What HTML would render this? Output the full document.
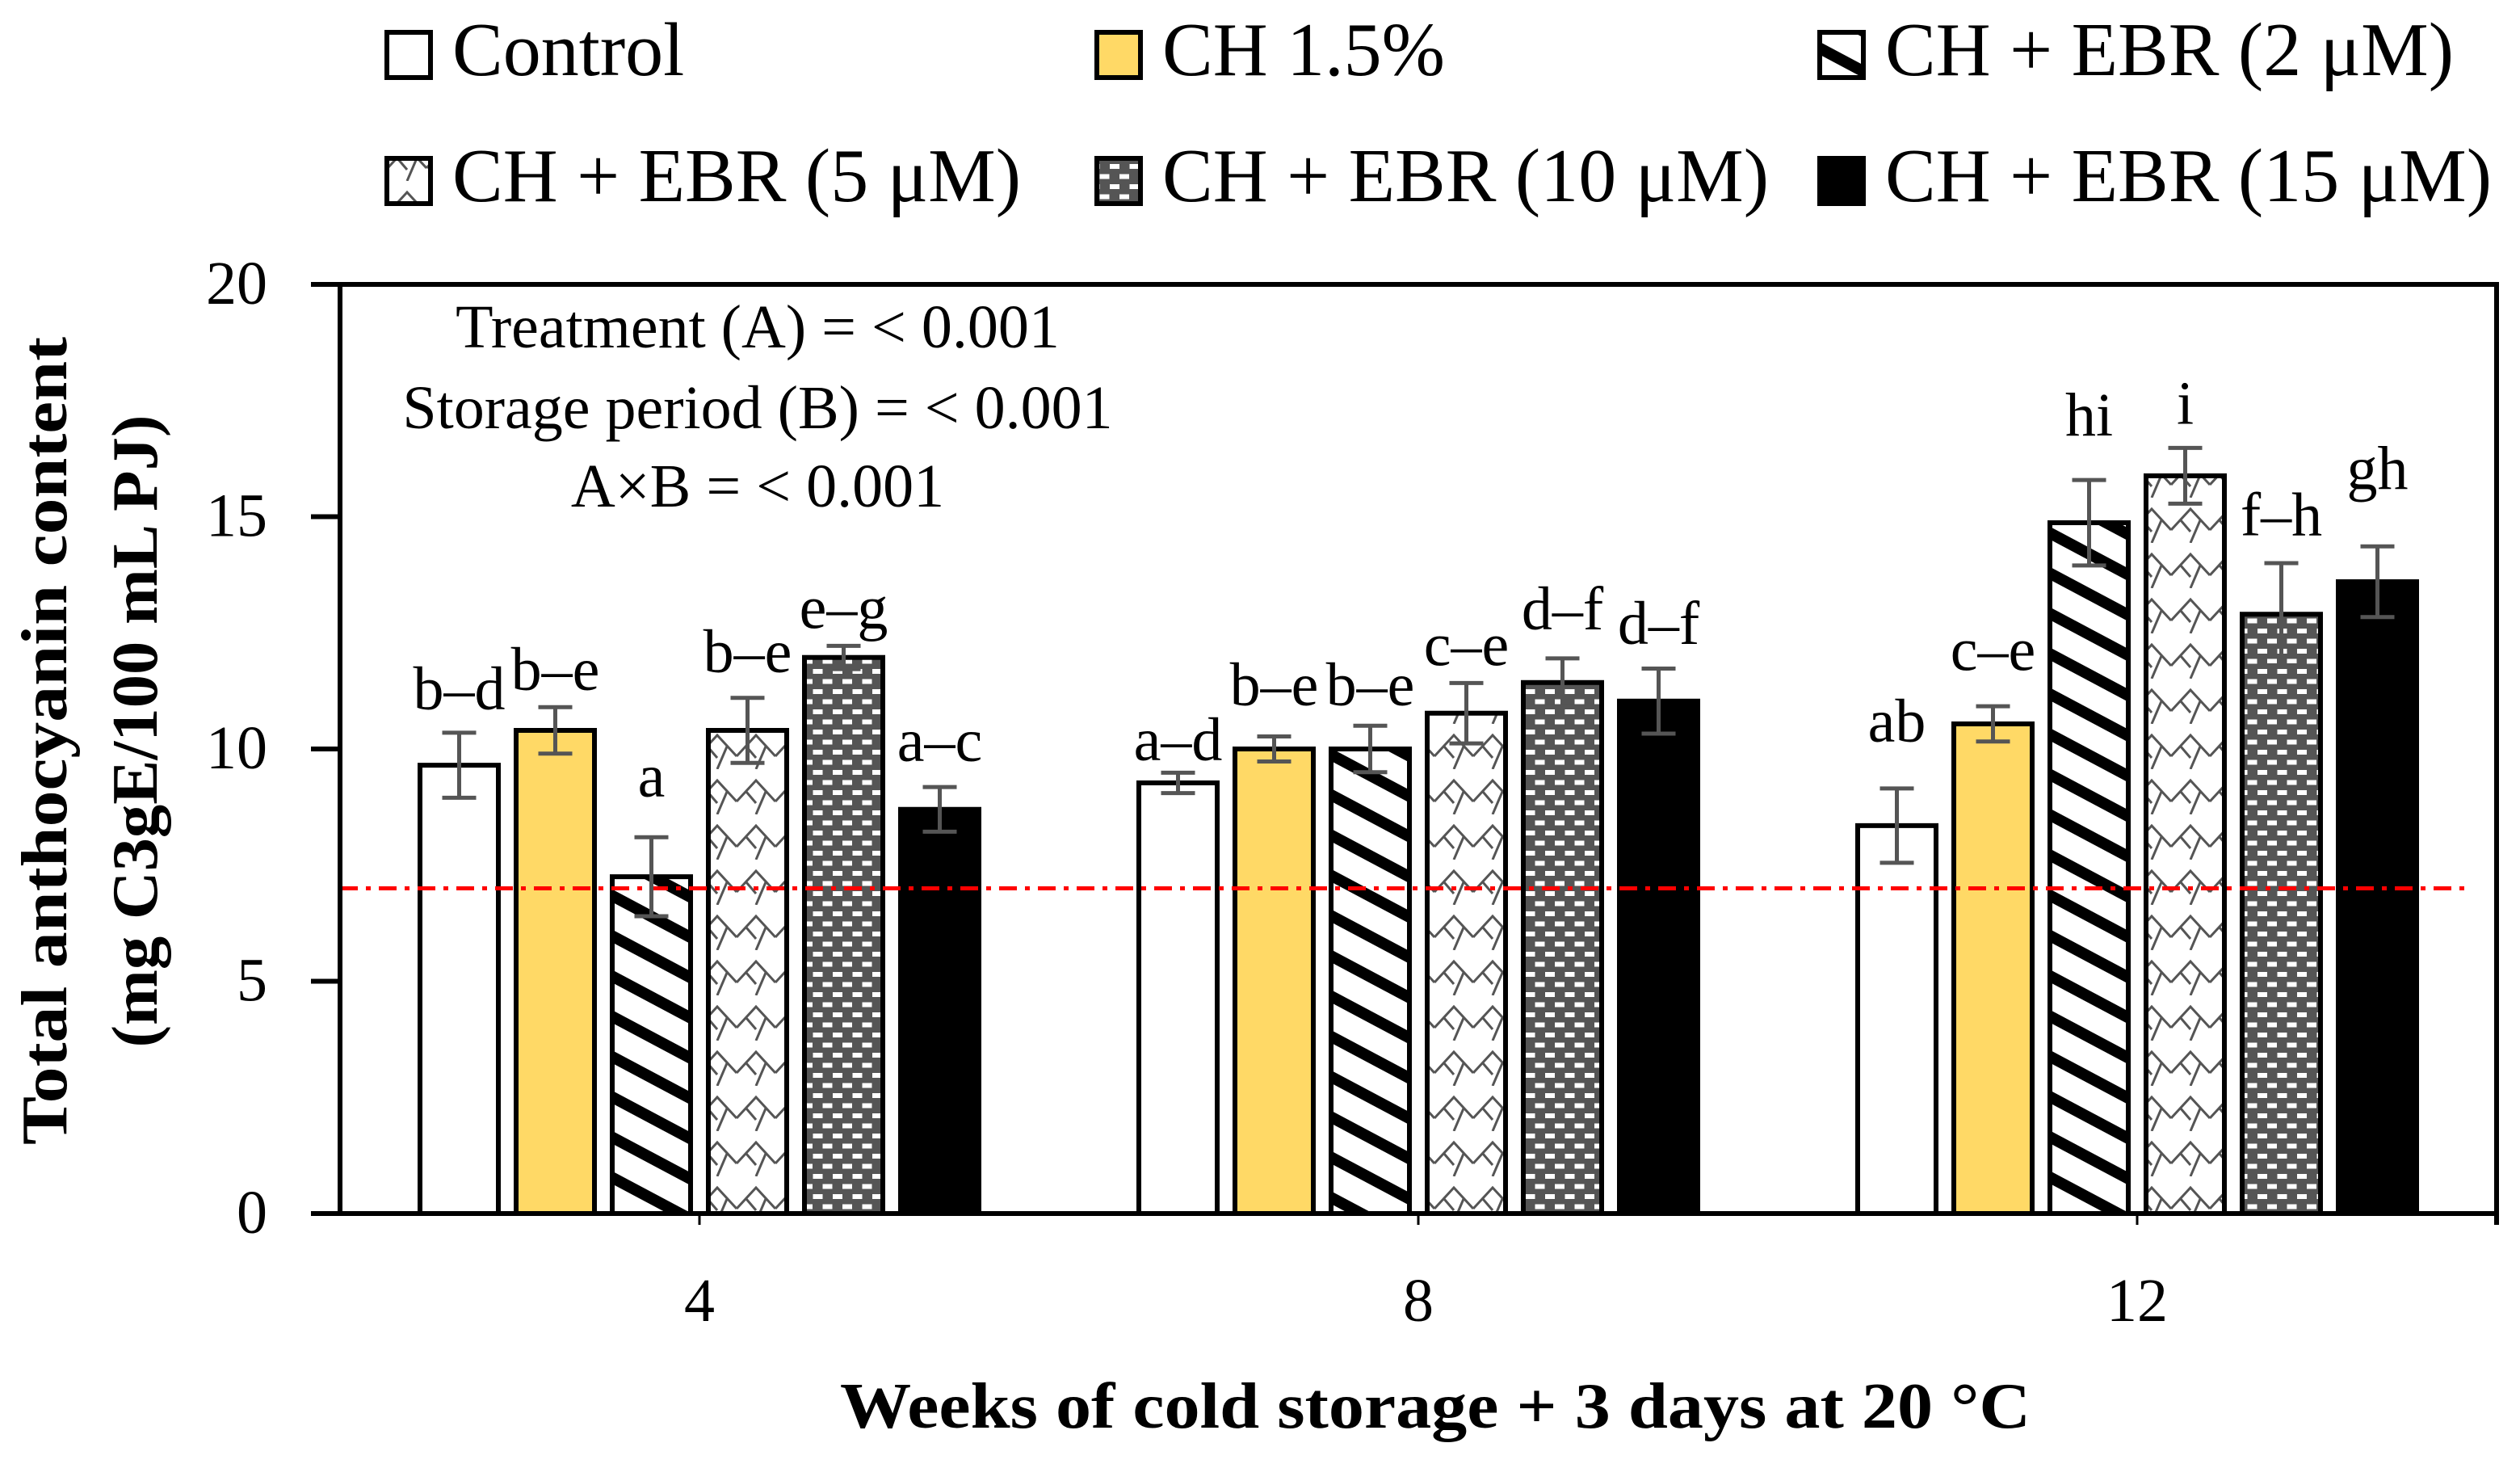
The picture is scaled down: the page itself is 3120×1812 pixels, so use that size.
<!DOCTYPE html>
<html><head><meta charset="utf-8"><style>
html,body{margin:0;padding:0;background:#fff}
svg{display:block}
text{font-family:"Liberation Serif",serif;fill:#000}
</style></head><body>
<svg id="chart" width="3120" height="1812" viewBox="0 0 3120 1812" xmlns="http://www.w3.org/2000/svg">
<defs>
<pattern id="p-stripe" patternUnits="userSpaceOnUse" width="44" height="44" patternTransform="rotate(28)">
<rect width="44" height="44" fill="#fff"/><rect y="0" width="44" height="14" fill="#000"/>
</pattern>
<pattern id="p-zig" patternUnits="userSpaceOnUse" width="48" height="56">
<rect width="48" height="56" fill="#fff"/>
<path d="M0 40 L24 14 L48 40 M12 28 L24 42 M36 28 L24 56" stroke="#555" stroke-width="3" fill="none"/>
</pattern>
<pattern id="p-dots" patternUnits="userSpaceOnUse" width="24.5" height="25">
<rect width="24.5" height="25" fill="#555"/>
<rect x="2" y="3" width="12" height="6" fill="#fff"/>
<rect x="14" y="15.5" width="12" height="6" fill="#fff"/>
<rect x="-10.5" y="15.5" width="12" height="6" fill="#fff"/>
</pattern>
</defs>
<g id="legend"></g>
<g id="plot"></g>
</svg>
<script>
const categories = ["4", "8", "12"];
const seriesNames = ["Control", "CH 1.5%", "CH + EBR (2 μM)", "CH + EBR (5 μM)", "CH + EBR (10 μM)", "CH + EBR (15 μM)"];
const valControl = [9.65, 9.27, 8.35];
const valCH = [10.4, 10.0, 10.54];
const valEBR2 = [7.25, 10.0, 14.87];
const valEBR5 = [10.4, 10.77, 15.88];
const valEBR10 = [11.97, 11.43, 12.9];
const valEBR15 = [8.7, 11.03, 13.6];
const errControl = [0.7, 0.22, 0.8];
const errCH = [0.5, 0.27, 0.38];
const errEBR2 = [0.85, 0.5, 0.92];
const errEBR5 = [0.7, 0.65, 0.6];
const errEBR10 = [0.25, 0.52, 1.1];
const errEBR15 = [0.48, 0.7, 0.76];
const letters4 = ["b–d", "b–e", "a", "b–e", "e–g", "a–c"];
const letters8 = ["a–d", "b–e", "b–e", "c–e", "d–f", "d–f"];
const letters12 = ["ab", "c–e", "hi", "i", "f–h", "gh"];
const letterPos4 = [10.85, 11.27, 8.97, 11.65, 12.6, 9.74];
const letterPos8 = [9.76, 10.94, 10.94, 11.8, 12.57, 12.26];
const letterPos12 = [10.16, 11.7, 16.75, 17.0, 14.6, 15.6];
const yTicks = [0, 5, 10, 15, 20];
const refLine = 7.0;

const NS = "http://www.w3.org/2000/svg";
const X0 = 421, X1 = 3091, Y0 = 1502, Y1 = 352, YMAX = 20;
const band = (X1 - X0) / categories.length;
const barStep = 119, barW = 97;
const fills = ["#fff", "#FFD966", "url(#p-stripe)", "url(#p-zig)", "url(#p-dots)", "#000"];
const vals = [valControl, valCH, valEBR2, valEBR5, valEBR10, valEBR15];
const errs = [errControl, errCH, errEBR2, errEBR5, errEBR10, errEBR15];
const letters = [letters4, letters8, letters12];
const letterPos = [letterPos4, letterPos8, letterPos12];
function y(v) { return Y0 - (v / YMAX) * (Y0 - Y1); }
function xc(ci) { return X0 + band * (ci + 0.5); }
function mk(tag, attrs, parent) { const e = document.createElementNS(NS, tag); for (const k in attrs) e.setAttribute(k, attrs[k]); parent.appendChild(e); return e; }
const plot = document.getElementById('plot');
const legend = document.getElementById('legend');

for (let ci = 0; ci < categories.length; ci++) {
  for (let s = 0; s < 6; s++) {
    const cx = xc(ci) + (s - 2.5) * barStep;
    const v = vals[s][ci];
    const r = mk('rect', {x: cx - barW / 2, y: y(v), width: barW, height: Y0 - y(v), fill: fills[s], stroke: '#000', 'stroke-width': 6}, plot);
    
    
  }
}
const rl = mk('line', {x1: X0, x2: X1 - 40, y1: y(refLine), y2: y(refLine), stroke: '#f00', 'stroke-width': 5, 'stroke-dasharray': '22 10 6 10'}, plot);


for (let ci = 0; ci < categories.length; ci++) {
  for (let s = 0; s < 6; s++) {
    const cx = xc(ci) + (s - 2.5) * barStep;
    const v = vals[s][ci], e = errs[s][ci];
    const g = mk('g', {stroke: '#555', 'stroke-width': 5}, plot);
    
    
    mk('line', {x1: cx, x2: cx, y1: y(v + e), y2: y(v - e)}, g);
    mk('line', {x1: cx - 21, x2: cx + 21, y1: y(v + e), y2: y(v + e)}, g);
    mk('line', {x1: cx - 21, x2: cx + 21, y1: y(v - e), y2: y(v - e)}, g);
    const t = mk('text', {x: cx, y: y(letterPos[ci][s]), 'font-size': 76, 'text-anchor': 'middle'}, plot);
    t.textContent = letters[ci][s];
    
    
  }
}
const ax = mk('g', {stroke: '#000', 'stroke-width': 6, fill: 'none'}, plot);


mk('path', {d: `M${X0} ${Y1} H${X1} V${Y0 + 14} M${X0} ${Y1} V${Y0} H${X1}`}, ax);
for (let ci = 0; ci < categories.length; ci++) mk('line', {x1: xc(ci), x2: xc(ci), y1: Y0, y2: Y0 + 14, 'stroke-width': 3}, ax);
for (const t of yTicks) {
  mk('line', {x1: X0 - 36, x2: X0, y1: y(t), y2: y(t)}, ax);
  const tl = mk('text', {x: 331, y: y(t) + 24, 'font-size': 76, 'text-anchor': 'end'}, plot);
  tl.textContent = t;
  
  
}
for (let ci = 0; ci < categories.length; ci++) {
  const tl = mk('text', {x: xc(ci), y: 1635, 'font-size': 76, 'text-anchor': 'middle'}, plot);
  tl.textContent = categories[ci];
  
  
}
const ann = ["Treatment (A) = < 0.001", "Storage period (B) = < 0.001", "A×B = < 0.001"];
const annY = [430, 530, 627];
for (let i = 0; i < 3; i++) {
  const t = mk('text', {x: 938, y: annY[i], 'font-size': 76, 'text-anchor': 'middle'}, plot);
  t.textContent = ann[i];
  
  
}
const xt = mk('text', {x: 1777, y: 1767, 'font-size': 80, 'font-weight': 'bold', 'text-anchor': 'middle', textLength: 1474, lengthAdjust: 'spacingAndGlyphs'}, plot);
xt.textContent = "Weeks of cold storage + 3 days at 20 °C";


const yt = mk('text', {x: 0, y: 0, 'font-size': 80, 'font-weight': 'bold', 'text-anchor': 'middle', textLength: 1000, lengthAdjust: 'spacingAndGlyphs', transform: 'translate(82 917) rotate(-90)'}, plot);
yt.textContent = "Total anthocyanin content";


const yt2 = mk('text', {x: 0, y: 0, 'font-size': 80, 'font-weight': 'bold', 'text-anchor': 'middle', textLength: 783, lengthAdjust: 'spacingAndGlyphs', transform: 'translate(194 905) rotate(-90)'}, plot);
yt2.textContent = "(mg C3gE/100 mL PJ)";


const legX = [476, 1355, 2250];
const legY = [37, 193];
for (let s = 0; s < 6; s++) {
  const row = Math.floor(s / 3), col = s % 3;
  const g = mk('g', {}, legend);
  
  
  mk('rect', {x: legX[col] + 3, y: legY[row] + 3, width: 54, height: 56, fill: fills[s], stroke: '#000', 'stroke-width': 6}, g);
  const t = mk('text', {x: legX[col] + 84, y: legY[row] + 56, 'font-size': 94}, g);
  t.textContent = seriesNames[s];
}
</script>
</body></html>
